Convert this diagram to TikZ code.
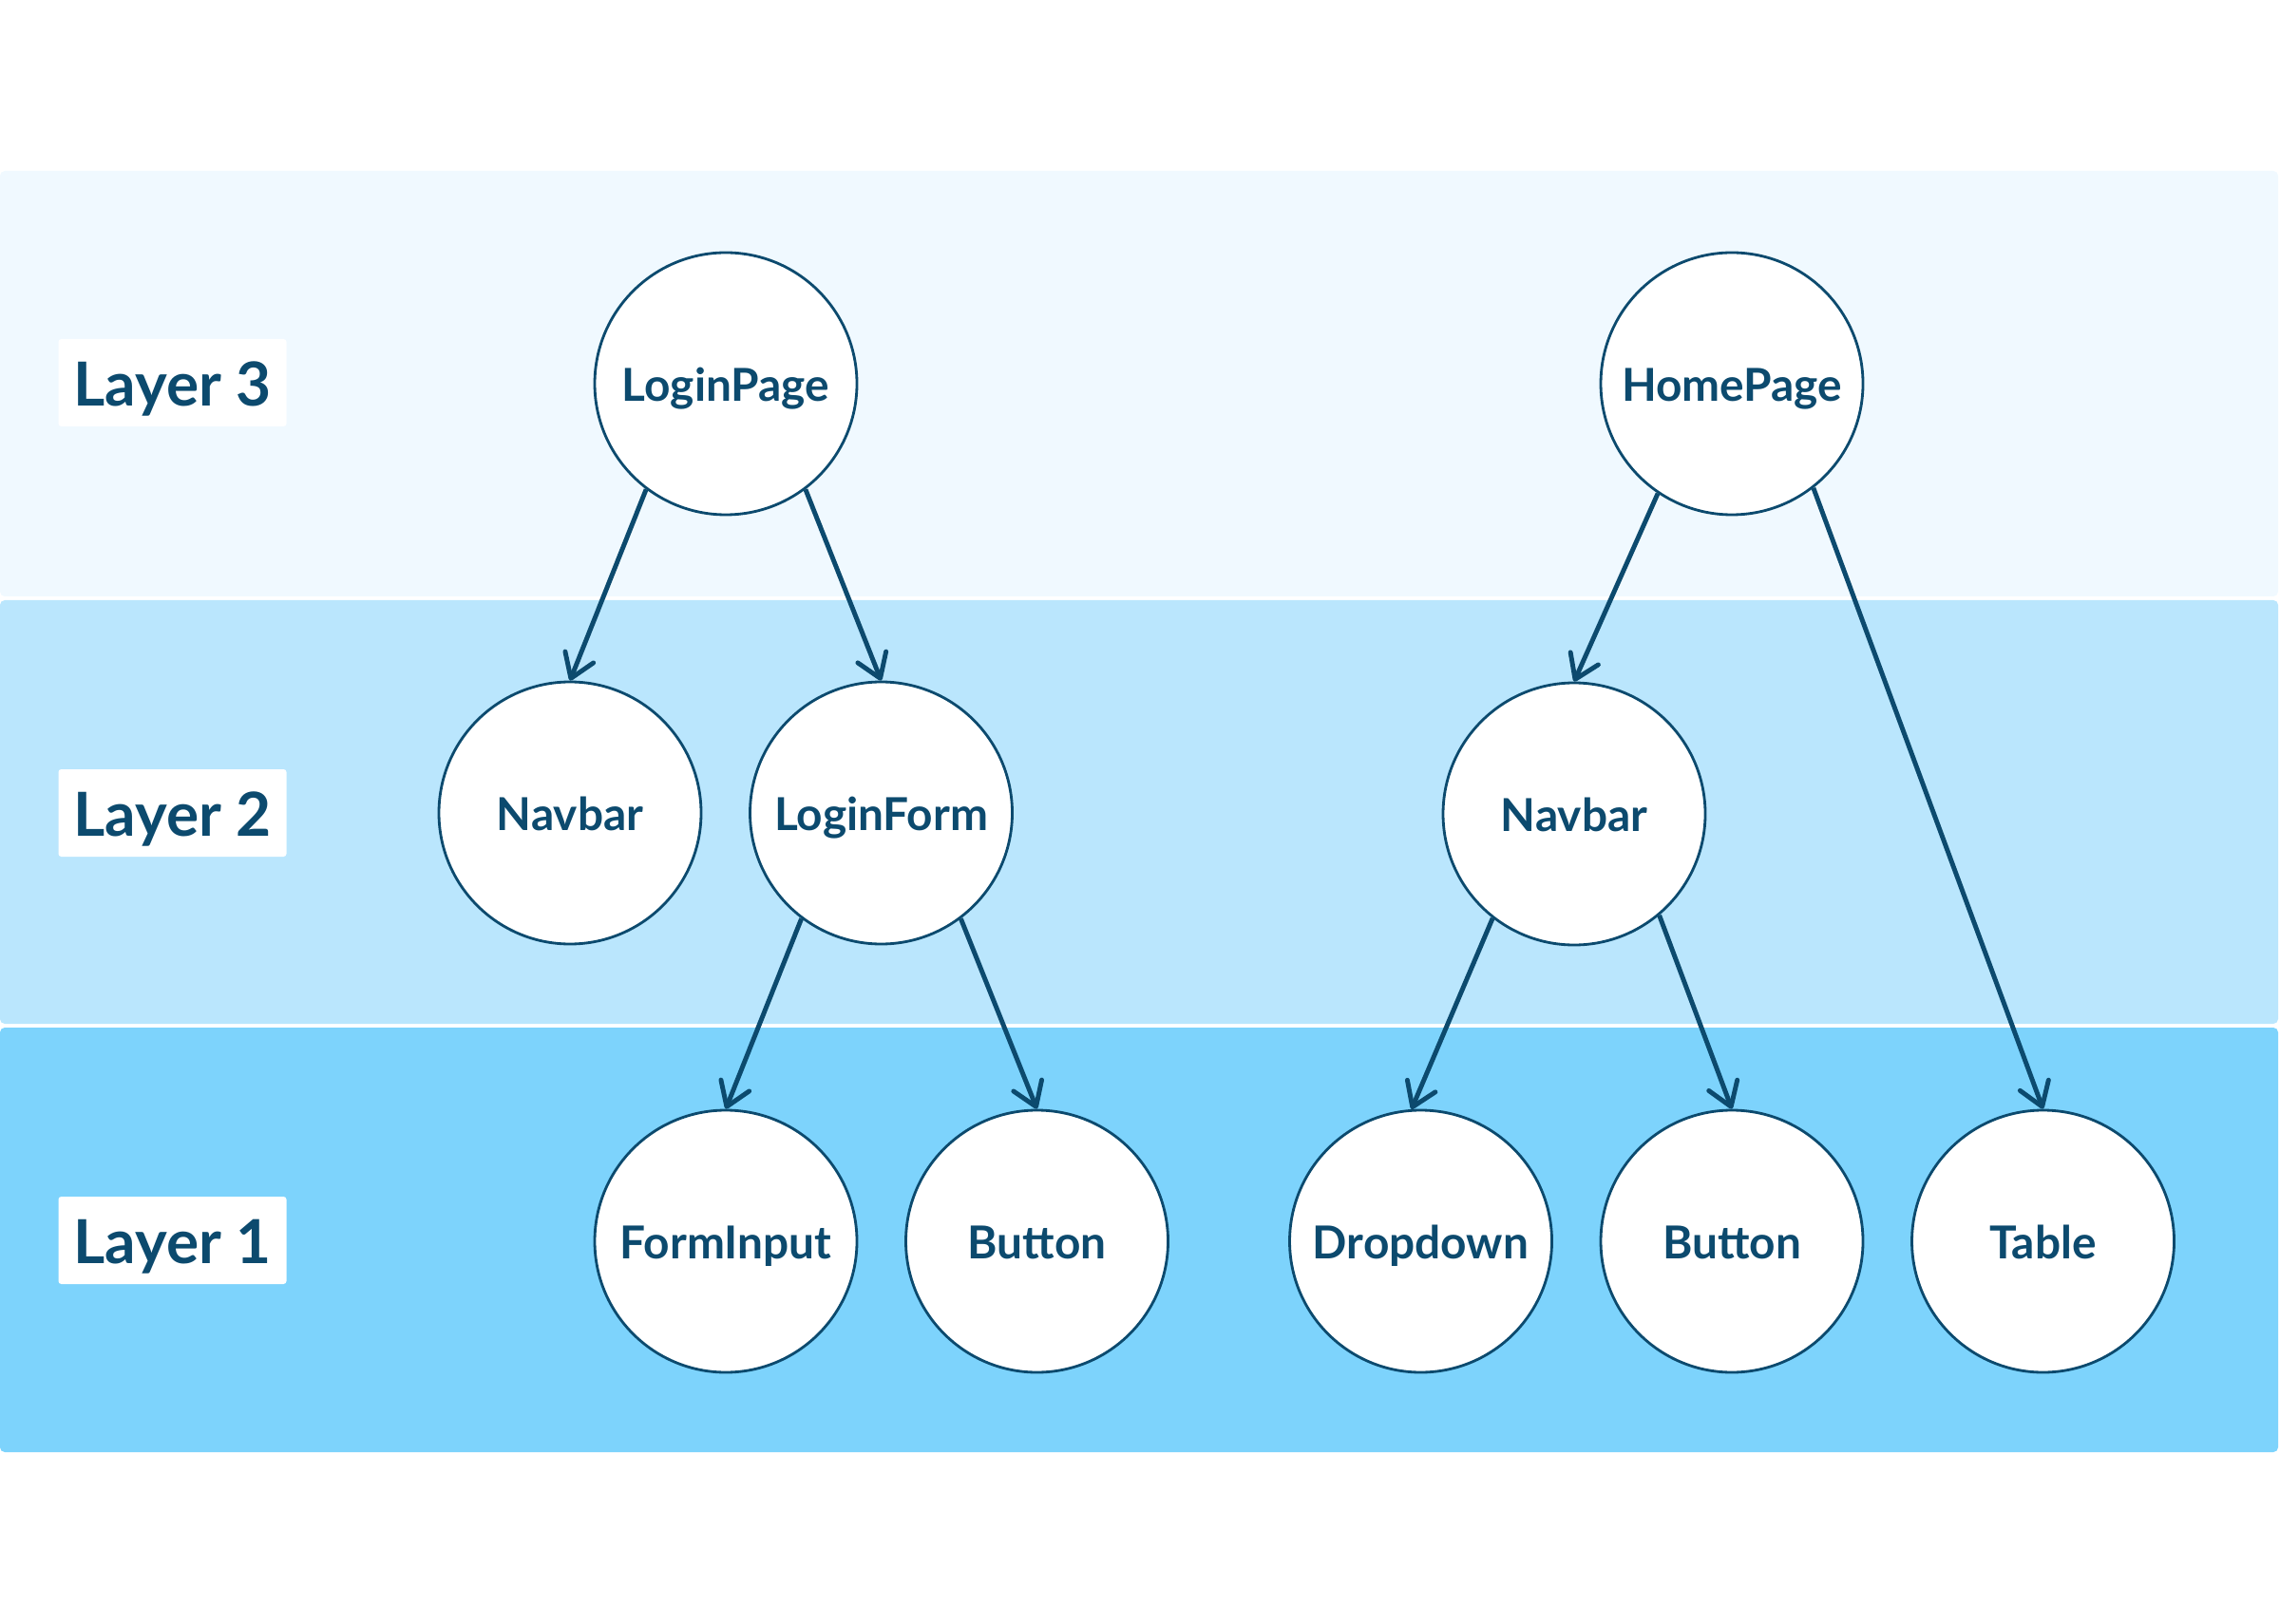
\documentclass[tikz,border=0pt]{standalone}
\usepackage{fontspec}
\setmainfont{Lato}
\usepackage{tikz}
\usetikzlibrary{arrows.meta}

\definecolor{skylight}{HTML}{F0F9FF}
\definecolor{skymid}{HTML}{BAE6FD}
\definecolor{skydeep}{HTML}{7DD3FC}
\definecolor{skyink}{HTML}{0C4A6E}

\tikzset{
    comp/.style={circle, draw=skyink, line width=0.8pt, fill=white, minimum size=2.76cm, inner sep=0pt,
        text=skyink, font=\bfseries\fontsize{13.6}{16}\selectfont, text height=0.37cm, text depth=0pt},
    layertag/.style={fill=white, rounded corners=0.03cm, minimum width=2.4cm, minimum height=0.92cm, inner sep=0pt,
        text=skyink, font=\bfseries\fontsize{18.2}{22}\selectfont, text height=0.49cm, text depth=0pt},
    band/.style={rounded corners=0.05cm},
    edge/.style={draw=skyink, line width=1.4pt, -{Straight Barb[length=2.4mm, width=3.2mm, round]}}
}

\begin{document}
\begin{tikzpicture}
    % Page frame
    \useasboundingbox (0, 0) rectangle (24, -17.1);

    % Draw the layer bands
    \fill[skylight, band] (0, -1.80) rectangle (23.98, -6.28);
    \fill[skymid, band] (0, -6.32) rectangle (23.98, -10.78);
    \fill[skydeep, band] (0, -10.82) rectangle (23.98, -15.29);

    % Layer labels
    \node[layertag] (tag3) at (1.815, -4.03) {Layer 3};
    \node[layertag] (tag2) at (1.815, -8.56) {Layer 2};
    \node[layertag] (tag1) at (1.815, -13.06) {Layer 1};

    % Components
    \node[comp] (loginpage) at (7.64, -4.04) {LoginPage};
    \node[comp] (homepage) at (18.23, -4.04) {HomePage};
    \node[comp] (navbarA) at (6.00, -8.56) {Navbar};
    \node[comp] (loginform) at (9.275, -8.56) {LoginForm};
    \node[comp] (navbarB) at (16.57, -8.57) {Navbar};
    \node[comp] (forminput) at (7.64, -13.07) {FormInput};
    \node[comp] (buttonA) at (10.915, -13.07) {Button};
    \node[comp] (dropdown) at (14.955, -13.07) {Dropdown};
    \node[comp] (buttonB) at (18.23, -13.07) {Button};
    \node[comp] (table) at (21.505, -13.07) {Table};

    % Draw the edges
    \draw[edge] (loginpage.-127) -- (navbarA.north); % left child
    \draw[edge] (loginpage.-53) -- (loginform.north); % right child
    \draw[edge] (loginform.-127) -- (forminput.north);
    \draw[edge] (loginform.-53) -- (buttonA.north);
    \draw[edge] (homepage.-124) -- (navbarB.north);
    \draw[edge] (homepage.-52) -- (table.north);
    \draw[edge] (navbarB.-128) -- (dropdown.94);
    \draw[edge] (navbarB.-50) -- (buttonB.north);
\end{tikzpicture}
\end{document}
